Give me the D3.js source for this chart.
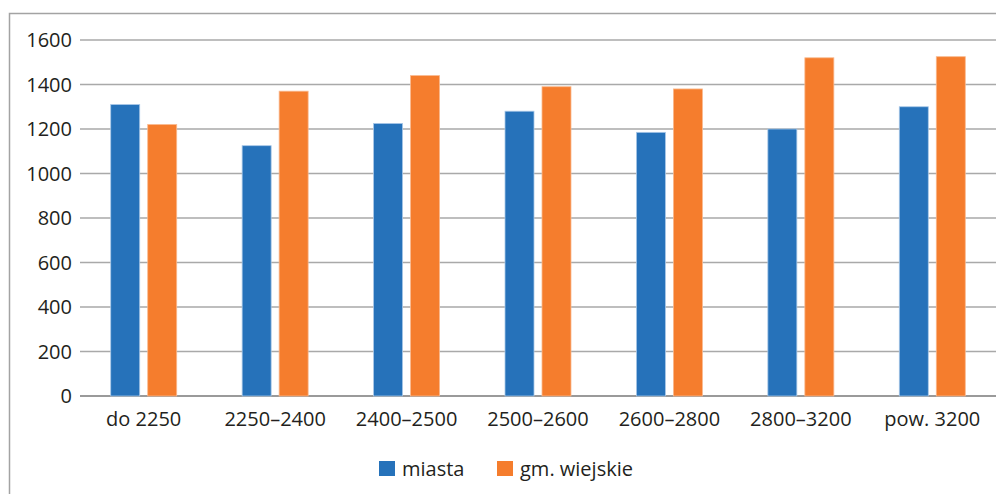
<!DOCTYPE html>
<html>
<head>
<meta charset="utf-8">
<script src="https://cdn.jsdelivr.net/npm/d3@7"></script>
<style>
  body { margin: 0; background: #fff; }
  text { font-family: "Open Sans", "Noto Sans", sans-serif; fill: #231f20; }
</style>
</head>
<body>
<div id="chart"></div>
<script>
const width = 996;
const height = 494;

const categories = ["do 2250", "2250–2400", "2400–2500", "2500–2600", "2600–2800", "2800–3200", "pow. 3200"];
const series = ["miasta", "gm. wiejskie"];
const miasta = [1310, 1125, 1225, 1280, 1185, 1200, 1300];
const wiejskie = [1220, 1370, 1440, 1390, 1380, 1520, 1525];
const yTicks = [0, 200, 400, 600, 800, 1000, 1200, 1400, 1600];

const svg = d3
  .select("#chart")
  .append("svg")
  .attr("width", width)
  .attr("height", height);

// frame
svg
  .append("rect")
  .attr("x", 9.5)
  .attr("y", 13.5)
  .attr("width", width + 20)
  .attr("height", height + 20)
  .attr("fill", "none")
  .attr("stroke", "#a3a3a3")
  .attr("stroke-width", 1.5);

const x0 = d3.scaleBand().domain(categories).range([80, 1000]);
const y = d3.scaleLinear().domain([0, 1600]).range([396, 40]);

const color = d3.scaleOrdinal().domain(series).range(["#2672ba", "#f57d2d"]);
const edge = d3.scaleOrdinal().domain(series).range(["#a9c8e8", "#f9b98e"]);

//-------grid + y labels-------//
const grid = svg.append("g").attr("class", "grid");
grid
  .selectAll("line")
  .data(yTicks)
  .join("line")
  .attr("x1", 80)
  .attr("x2", width)
  .attr("y1", (d) => y(d))
  .attr("y2", (d) => y(d))
  .attr("stroke", (d) => (d === 0 ? "#9a9a9a" : "#a9a9a9"))
  .attr("stroke-width", (d) => (d === 0 ? 2 : 1.5));

grid
  .selectAll("text")
  .data(yTicks)
  .join("text")
  .attr("x", 72)
  .attr("y", (d) => y(d))
  .attr("dy", "0.36em")
  .attr("text-anchor", "end")
  .attr("font-size", 20)
  .text((d) => d);

//-------bars-------//
const rows = categories.map((c, i) => ({
  cat: c,
  values: [
    { key: series[0], value: miasta[i] },
    { key: series[1], value: wiejskie[i] },
  ],
}));

const barW = 29;
const gap = 8;

const groups = svg
  .append("g")
  .attr("class", "bars")
  .selectAll("g")
  .data(rows)
  .join("g")
  .attr("transform", (d) => `translate(${x0(d.cat) + x0.bandwidth() / 2 - 2},0)`);

groups
  .selectAll("rect")
  .data((d) => d.values)
  .join("rect")
  .attr("x", (d, i) => (i === 0 ? -gap / 2 - barW : gap / 2))
  .attr("y", (d) => y(d.value))
  .attr("width", barW)
  .attr("height", (d) => y(0) - y(d.value))
  .attr("fill", (d) => color(d.key))
  .attr("stroke", (d) => edge(d.key))
  .attr("stroke-width", 0.8);

//-------x labels-------//
svg
  .append("g")
  .selectAll("text")
  .data(categories)
  .join("text")
  .attr("x", (d) => x0(d) + x0.bandwidth() / 2 - 2)
  .attr("y", 426)
  .attr("text-anchor", "middle")
  .attr("font-size", 20)
  .text((d) => d);

//-------legend-------//
const legendX = [379, 497];
const legend = svg
  .append("g")
  .selectAll("g")
  .data(series)
  .join("g")
  .attr("transform", (d, i) => `translate(${legendX[i]},461)`);

legend
  .append("rect")
  .attr("width", 16)
  .attr("height", 15)
  .attr("fill", (d) => color(d));

legend
  .append("text")
  .attr("x", 23)
  .attr("y", 15)
  .attr("font-size", 20)
  .text((d) => d);
</script>
</body>
</html>
